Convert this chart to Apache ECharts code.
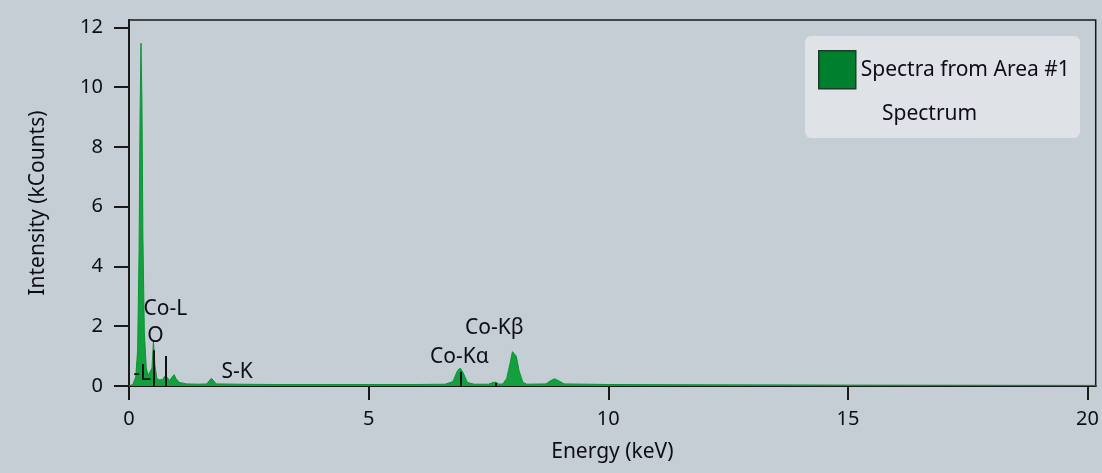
<!DOCTYPE html>
<html>
<head>
<meta charset="utf-8">
<script src="https://cdn.jsdelivr.net/npm/echarts@6/dist/echarts.min.js"></script>
<style>
html,body{margin:0;padding:0;background:#c6ced5;}
#chart{width:1102px;height:473px;}
</style>
</head>
<body>
<div id="chart"></div>
<script>
// Spectrum samples (keV, kCounts)
var energies = [0.00,0.08,0.14,0.18,0.21,0.23,0.25,0.27,0.29,0.32,0.36,0.40,0.44,0.48,0.51,0.54,0.58,0.64,0.70,0.76,0.80,0.85,0.90,0.94,0.98,1.05,1.20,1.45,1.62,1.72,1.82,2.30,3.00,4.00,5.00,6.00,6.60,6.76,6.85,6.91,6.97,7.06,7.20,7.50,7.60,7.65,7.72,7.80,7.88,7.95,8.00,8.03,8.08,8.14,8.22,8.30,8.70,8.80,8.88,8.96,9.08,10.0,12.0,15.0,20.0,20.17];
var counts   = [0.00,0.05,0.30,1.20,4.50,9.00,11.47,9.50,5.00,1.80,0.60,0.35,0.30,0.60,1.50,0.70,0.25,0.20,0.22,0.35,0.28,0.18,0.30,0.38,0.25,0.12,0.07,0.06,0.07,0.26,0.07,0.06,0.05,0.05,0.05,0.05,0.06,0.15,0.50,0.60,0.45,0.12,0.06,0.06,0.12,0.13,0.06,0.07,0.25,0.75,1.15,1.20,1.00,0.50,0.12,0.06,0.07,0.18,0.24,0.18,0.07,0.05,0.04,0.03,0.02,0.02];

// Element marker lines (keV, height in kCounts)
var markerEnergies = [0.525, 0.776, 6.93, 7.65];
var markerHeights  = [1.2, 1.0, 0.48, 0.1];

// Annotation labels
var labelNames = ['Co-L', 'O', '-L', 'S-K', 'Co-Kα', 'Co-Kβ'];
var labelX     = [0.29, 0.37, 0.08, 1.92, 6.27, 7.00];
var labelY     = [2.58, 1.67, 0.40, 0.47, 0.97, 1.94];

var xTicks = [0, 5, 10, 15, 20];
var yTicks = [0, 2, 4, 6, 8, 10, 12];

var seriesName = 'Spectra from Area #1';
var legendSub = 'Spectrum';

var spectrum = energies.map(function (e, i) { return [e, counts[i]]; });
var markLines = markerEnergies.map(function (e, i) {
  return [{ coord: [e, 0] }, { coord: [e, markerHeights[i]] }];
});
var annotations = labelNames.map(function (n, i) { return { name: n, value: [labelX[i], labelY[i]] }; });

var FONT = 'Noto Sans';
var TXT = '#0d0d18';
var chart = echarts.init(document.getElementById('chart'), null, { renderer: 'canvas' });
chart.setOption({
  backgroundColor: '#c6ced5',
  animation: false,
  textStyle: { fontFamily: FONT },
  grid: {
    left: 129, right: 5, top: 20, bottom: 87,
    show: true, borderColor: '#1a1a1a', borderWidth: 1.5, backgroundColor: 'transparent'
  },
  xAxis: {
    type: 'value', min: 0, max: 20.17,
    name: 'Energy (keV)', nameLocation: 'middle', nameGap: 56,
    nameTextStyle: { fontSize: 21, color: TXT, fontFamily: FONT },
    axisLine: { show: true, onZero: false, lineStyle: { color: '#1a1a1a', width: 2 } },
    axisTick: { show: true, length: 14, lineStyle: { color: '#1a1a1a', width: 2 }, customValues: xTicks },
    axisLabel: { fontSize: 20, color: TXT, margin: 23, customValues: xTicks, fontFamily: FONT },
    splitLine: { show: false }
  },
  yAxis: {
    type: 'value', min: 0, max: 12.25,
    name: 'Intensity (kCounts)', nameLocation: 'middle', nameGap: 80, nameRotate: 90,
    nameTextStyle: { fontSize: 21, color: TXT, fontFamily: FONT },
    axisLine: { show: true, lineStyle: { color: '#1a1a1a', width: 2 } },
    axisTick: { show: true, length: 15, lineStyle: { color: '#1a1a1a', width: 2 }, customValues: yTicks },
    axisLabel: { fontSize: 20, color: TXT, margin: 26, customValues: yTicks, fontFamily: FONT },
    splitLine: { show: false }
  },
  legend: {
    left: 813, top: 45, orient: 'vertical',
    itemWidth: 37, itemHeight: 38, itemGap: 10,
    textStyle: { fontSize: 21, color: TXT, fontFamily: FONT },
    data: [{ name: seriesName, icon: 'rect', itemStyle: { color: '#007f2f', borderColor: '#1d3a24', borderWidth: 1.5 } }]
  },
  graphic: [
    { type: 'rect', left: 805, top: 36, z: -1, shape: { width: 275, height: 102, r: 6 }, style: { fill: '#dfe2e7' } },
    { type: 'text', left: 882, top: 104, z: 10, style: { text: legendSub, font: '21px "Noto Sans"', fill: TXT } }
  ],
  series: [
    {
      name: seriesName, type: 'line', data: spectrum, showSymbol: false, smooth: false,
      lineStyle: { color: '#0a9436', width: 1 },
      itemStyle: { color: '#007f2f' },
      areaStyle: { color: '#14a03c', opacity: 1 },
      markLine: {
        silent: true, symbol: ['none', 'none'], label: { show: false },
        lineStyle: { color: '#111', width: 2, type: 'solid' },
        data: markLines
      },
      z: 2
    },
    {
      name: 'labels', type: 'scatter', data: annotations, symbolSize: 1,
      itemStyle: { color: 'rgba(0,0,0,0)', opacity: 1 }, silent: true,
      label: {
        show: true, position: 'right', distance: 0, formatter: '{b}',
        fontSize: 21, color: TXT, fontFamily: FONT, opacity: 1
      },
      z: 5
    }
  ]
});
</script>
</body>
</html>
